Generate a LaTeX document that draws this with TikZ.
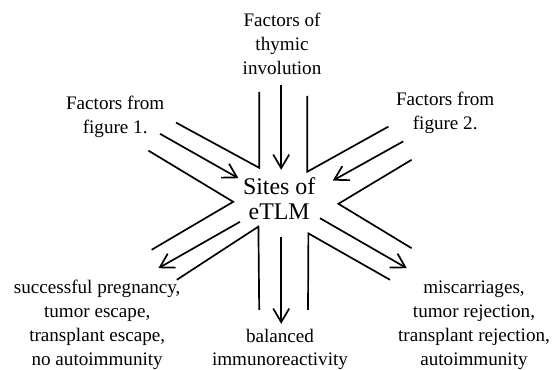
\documentclass[tikz,border=0pt]{standalone}
\usepackage{fontspec}
\setmainfont{Liberation Serif}
\usetikzlibrary{arrows.meta}
\tikzset{
	arr/.style={-{Straight Barb[length=3.4mm,width=4mm]}},
	lbl/.style={align=center, inner sep=0pt, font=\fontsize{13.6}{17}\selectfont},
}
\begin{document}
\begin{tikzpicture}[line width=1.2pt]
		\useasboundingbox (0,0) rectangle (13.8,9.225);
		% centre and the labels round it
		\node[align=center, inner sep=0pt, font=\fontsize{17}{17.8}\selectfont] (site) at (6.98,4.25) {Sites of\\eTLM};
		\node[lbl] (thymic) at (7.05,8.13) {Factors of\\thymic\\involution};
		\node[lbl] (fig1) at (2.88,6.30) {Factors from\\figure 1.};
		\node[lbl] (fig2) at (11.13,6.40) {Factors from\\figure 2.};
		\node[lbl] (preg) at (2.43,1.10) {successful pregnancy,\\tumor escape,\\transplant escape,\\no autoimmunity};
		\node[lbl] (bal) at (7.00,0.49) {balanced\\immunoreactivity};
		\node[lbl] (rej) at (11.85,1.10) {miscarriages,\\tumor rejection,\\transplant rejection,\\autoimmunity};
		% arrow ends
		\coordinate (in1) at (7.03,7.10); \coordinate (out1) at (7.03,4.98);
		\coordinate (in2) at (4.00,5.88); \coordinate (out2) at (5.96,4.77);
		\coordinate (in3) at (10.08,5.69); \coordinate (out3) at (8.32,4.71);
		\coordinate (in4) at (6.00,3.68); \coordinate (out4) at (3.96,2.52);
		\coordinate (in5) at (7.03,3.30); \coordinate (out5) at (7.03,1.13);
		\coordinate (in6) at (8.00,3.77); \coordinate (out6) at (10.17,2.52);
		\draw[arr] (in1) -- (out1);
		\draw[arr] (in2) -- (out2);
		\draw[arr] (in3) -- (out3);
		\draw[arr] (in4) -- (out4);
		\draw[arr] (in5) -- (out5);
		\draw[arr] (in6) -- (out6);
		% the star outline
		\draw (4.40,6.16) -- (6.48,5.03) -- (6.48,6.93);
		\draw (9.71,6.06) -- (7.68,4.93) -- (7.68,6.83);
		\draw (3.71,5.46) -- (5.83,4.18) -- (3.79,2.98);
		\draw (10.29,5.23) -- (8.46,4.13) -- (10.29,3.02);
		\draw (4.42,2.23) -- (6.46,3.56) -- (6.48,1.48);
		\draw (9.75,2.23) -- (7.71,3.39) -- (7.70,1.48);
	\end{tikzpicture}
\end{document}
